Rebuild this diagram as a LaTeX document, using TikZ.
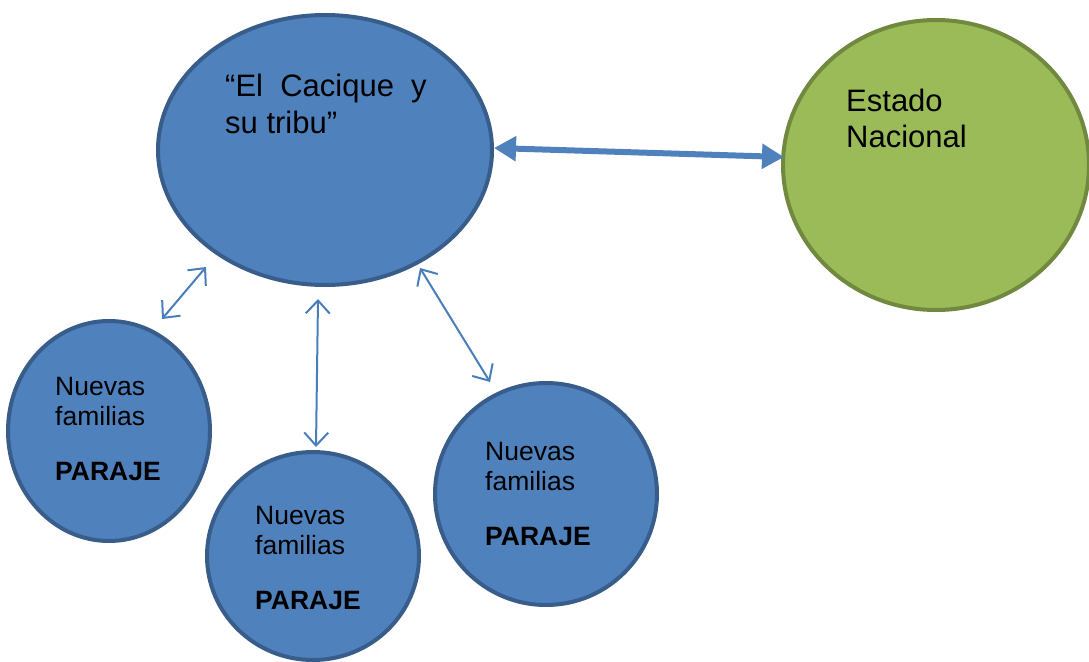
\documentclass[tikz,border=0pt]{standalone}
\usepackage{fontspec}
\setmainfont{Liberation Sans}
\usetikzlibrary{shapes.geometric,arrows.meta}
\definecolor{bfill}{HTML}{4F81BD}
\definecolor{bline}{HTML}{385D8A}
\definecolor{gfill}{HTML}{9BBB59}
\definecolor{gline}{HTML}{71893F}
\definecolor{arr}{HTML}{4A7EBB}
\tikzset{
  blob/.style={ellipse, inner sep=0pt, line width=4pt},
  bluec/.style={blob, fill=bfill, draw=bline},
  greenc/.style={blob, fill=gfill, draw=gline},
  big/.style={anchor=base west, inner sep=0pt, font=\fontsize{31}{36}\selectfont},
  small/.style={anchor=base west, inner sep=0pt, font=\fontsize{26.5}{30}\selectfont},
  thick arrow/.style={line width=6pt, draw=bfill, {Triangle[length=22pt,width=24pt]}-{Triangle[length=22pt,width=24pt]}},
  thin arrow/.style={line width=2pt, draw=arr, {Straight Barb[length=13pt,width=24pt]}-{Straight Barb[length=13pt,width=24pt]}}
}
\begin{document}
\begin{tikzpicture}[x=1pt,y=-1pt]
\useasboundingbox (0,0) rectangle (1089,661);
\node[bluec, minimum width=334pt, minimum height=270pt] (cacique) at (325,150) {};
\node[greenc, minimum width=306pt, minimum height=290pt] (estado) at (936,165) {};
\node[bluec, minimum width=202pt, minimum height=220pt] (p1) at (109,431) {};
\node[bluec, minimum width=212pt, minimum height=208pt] (p2) at (313,556) {};
\node[bluec, minimum width=222pt, minimum height=222pt] (p3) at (546,494) {};

\node[big] (t1) at (225,96) {“El\ \ Cacique\ \ y};
\node[big] (t2) at (225,133) {su tribu”};
\node[big] (e1) at (846,111) {Estado};
\node[big] (e2) at (846,147) {Nacional};

\node[small] (a1) at (55,395) {Nuevas};
\node[small] (a2) at (55,425) {familias};
\node[small] (a3) at (55,480) {\bfseries PARAJE};
\node[small] (b1) at (255,524) {Nuevas};
\node[small] (b2) at (255,554) {familias};
\node[small] (b3) at (255,609) {\bfseries PARAJE};
\node[small] (c1) at (485,460) {Nuevas};
\node[small] (c2) at (485,490) {familias};
\node[small] (c3) at (485,545) {\bfseries PARAJE};

\coordinate (ce) at (494,148);
\coordinate (ew) at (784,157);
\coordinate (cs1) at (206,267);
\coordinate (p1n) at (162,319);
\coordinate (cs2) at (318,299);
\coordinate (p2n) at (316,447);
\coordinate (cs3) at (420,268);
\coordinate (p3n) at (490,382);

\draw[thick arrow] (ce) -- (ew);
\draw[thin arrow] (p1n) -- (cs1);
\draw[thin arrow] (cs2) -- (p2n);
\draw[thin arrow] (cs3) -- (p3n);
\end{tikzpicture}
\end{document}
